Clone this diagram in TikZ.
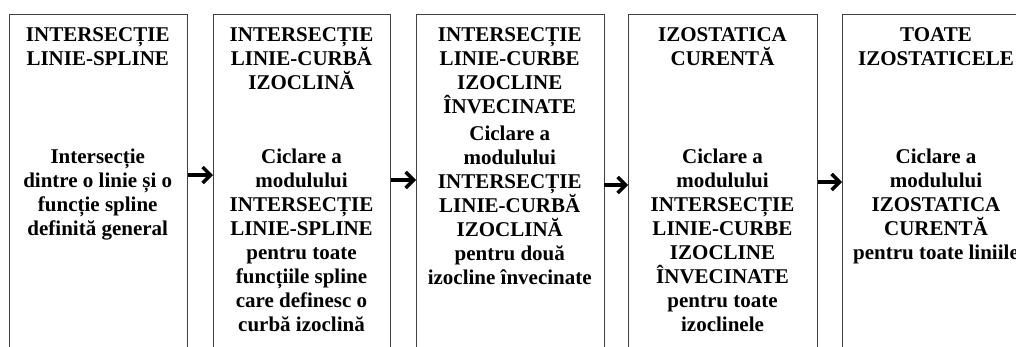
\documentclass[tikz,border=0pt]{standalone}
\usepackage{fontspec}
\setmainfont{Liberation Serif}
\usetikzlibrary{arrows.meta}

% first-line strut: fixes the distance from a text block's top to its first baseline
\newcommand\fl{\rule{0pt}{20pt}}

\begin{document}
\begin{tikzpicture}[x=1pt,y=-1pt,
  stage/.style={draw=black!75,line width=0.9pt,inner sep=0pt,anchor=north west},
  label/.style={anchor=north,inner sep=0pt,align=center,
    font=\bfseries\fontsize{21}{24}\selectfont},
  flow/.style={line width=3.4pt,
    -{Straight Barb[length=8pt,width=16pt,line width=3.4pt]}}]
\useasboundingbox (0,0) rectangle (1016,346);
\clip (0,0) rectangle (1016,346);
\fill[white] (0,0) rectangle (1016,346);

% stage frames (they run past the lower and right edges)
\node[stage,minimum width=178.5pt,minimum height=420pt] (b1) at (8.5,13.5) {};
\node[stage,minimum width=177pt,minimum height=420pt] (b2) at (213,13.5) {};
\node[stage,minimum width=187.5pt,minimum height=420pt] (b3) at (416,13.5) {};
\node[stage,minimum width=189pt,minimum height=420pt] (b4) at (628,13.5) {};
\node[stage,minimum width=189pt,minimum height=420pt] (b5) at (842,13.5) {};

% titles
\node[label] (t1) at (97.75,21) {\fl INTERSECȚIE\\LINIE-SPLINE};
\node[label] (t2) at (301.5,21) {\fl INTERSECȚIE\\LINIE-CURBĂ\\IZOCLINĂ};
\node[label] (t3) at (509.75,21) {\fl INTERSECȚIE\\LINIE-CURBE\\IZOCLINE\\ÎNVECINATE};
\node[label] (t4) at (722.5,21) {\fl IZOSTATICA\\CURENTĂ};
\node[label] (t5) at (936,21) {\fl TOATE\\IZOSTATICELE};

% descriptions
\node[label] (d1) at (97.75,143) {\fl Intersecție\\dintre o linie și o\\funcție spline\\definită general};
\node[label] (d2) at (301.5,143) {\fl Ciclare a\\modulului\\INTERSECȚIE\\LINIE-SPLINE\\pentru toate\\funcțiile spline\\care definesc o\\curbă izoclină};
\node[label] (d3) at (509.75,120) {\fl Ciclare a\\modulului\\INTERSECȚIE\\LINIE-CURBĂ\\IZOCLINĂ\\pentru două\\izocline învecinate};
\node[label] (d4) at (722.5,143) {\fl Ciclare a\\modulului\\INTERSECȚIE\\LINIE-CURBE\\IZOCLINE\\ÎNVECINATE\\pentru toate\\izoclinele};
\node[label] (d5) at (936,143) {\fl Ciclare a\\modulului\\IZOSTATICA\\CURENTĂ\\pentru toate liniile};

% flow arrows
\draw[flow] (b1.east |- 0,175) -- (b2.west |- 0,175);
\draw[flow] (b2.east |- 0,180) -- (b3.west |- 0,180);
\draw[flow] (b3.east |- 0,185) -- (b4.west |- 0,185);
\draw[flow] (b4.east |- 0,182) -- (b5.west |- 0,182);
\end{tikzpicture}
\end{document}
